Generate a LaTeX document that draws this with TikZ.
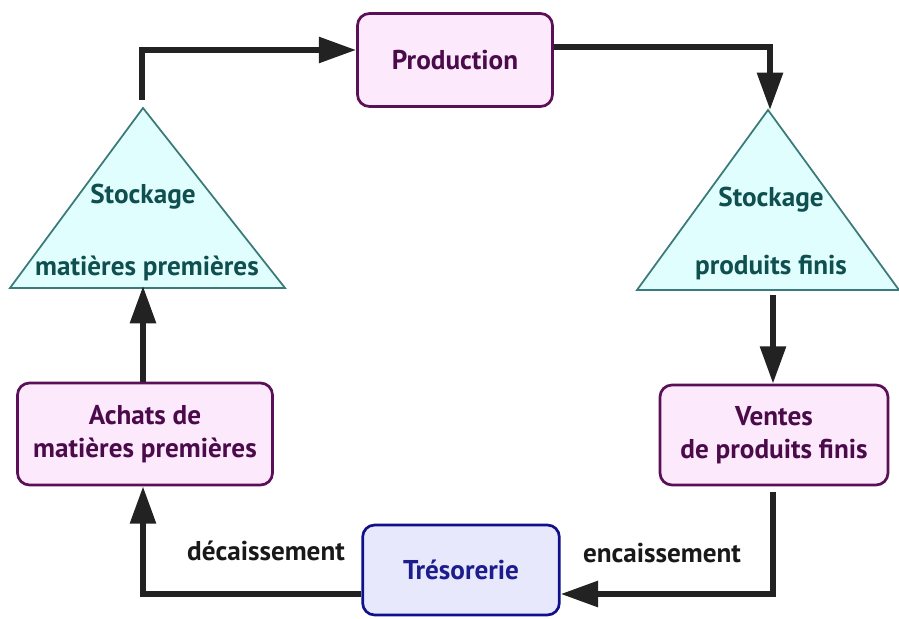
\documentclass[tikz,border=0pt]{standalone}
\usepackage{fontspec}
\setmainfont{PT Sans}
\usepackage{xcolor}
\usepackage{tikz}
\usetikzlibrary{arrows.meta,positioning,calc}

\definecolor{boxfill}{HTML}{FCE9FC}
\definecolor{boxdraw}{HTML}{5A0F57}
\definecolor{boxtext}{HTML}{4B0B4B}
\definecolor{stockfill}{HTML}{E0FEFE}
\definecolor{stockdraw}{HTML}{3A7A78}
\definecolor{stocktext}{HTML}{0F4F4F}
\definecolor{tresofill}{HTML}{E8E8FC}
\definecolor{tresodraw}{HTML}{10108A}
\definecolor{tresotext}{HTML}{1C1C8C}
\definecolor{flowcol}{HTML}{222222}

\begin{document}
\begin{tikzpicture}[
  x=0.03cm, y=0.03cm,
  txt/.style={font=\fontsize{23.2}{28.5}\selectfont\bfseries, align=center},
  box/.style={txt, draw=boxdraw, fill=boxfill, text=boxtext, line width=2.3pt, rounded corners=0.36cm, inner sep=0pt},
  tresor/.style={box, draw=tresodraw, fill=tresofill, text=tresotext},
  stock/.style={draw=stockdraw, fill=stockfill, line width=1.5pt, line join=miter},
  stocktxt/.style={txt, text=stocktext, inner sep=0pt},
  lbl/.style={txt, text=black!90, inner sep=0pt},
  arrow/.style={-{Triangle[length=1.12cm, width=0.75cm]}, draw=flowcol, line width=5pt}
]
  \useasboundingbox (0,0) rectangle (899,618);

  % Boxes
  \node[box, minimum width=5.85cm, minimum height=2.79cm] (prod) at (455,558) {Production};
  \node[box, minimum width=7.65cm, minimum height=3.06cm] (achats) at (145,184) {Achats de\\mati\`eres premi\`eres};
  \node[box, minimum width=6.84cm, minimum height=3.0cm] (ventes) at (774,183) {Ventes\\de produits finis};
  \node[tresor, minimum width=5.9cm, minimum height=2.7cm] (treso) at (461,48) {Tr\'esorerie};

  % Stocks
  \coordinate (smtop) at (142,510);
  \coordinate (smbase) at (143,330);
  \draw[stock] (143,510) -- (285,330) -- (10,330) -- cycle;
  \node[stocktxt] (smlab1) at (143,421) {Stockage};
  \node[stocktxt] (smlab2) at (147,350) {mati\`eres premi\`eres};

  \coordinate (pftop) at (770,508);
  \coordinate (pfbase) at (773,328);
  \draw[stock] (768,508) -- (899,328) -- (637,328) -- cycle;
  \node[stocktxt] (pflab1) at (771,418) {Stockage};
  \node[stocktxt] (pflab2) at (771,350) {produits finis};

  % Labels
  \node[lbl] (decais) at (266,67) {d\'ecaissement};
  \node[lbl] (encais) at (662,65) {encaissement};

  % Arrows
  \draw[arrow] ($(smtop)+(0,8)$) |- ($(prod.west)+(0,10)$);
  \draw[arrow] ($(prod.east)+(0,13)$) -| (pftop);
  \draw[arrow] ($(pfbase)+(0,-5)$) -- (pfbase |- ventes.north);
  \draw[arrow] ($(ventes.south)+(-1,-6)$) |- ($(treso.east)+(0,-24)$);
  \draw[arrow] ($(treso.west)+(0,-24)$) -| ($(achats.south)+(-2,0)$);
  \draw[arrow] ($(achats.north)+(-2,0)$) -- ($(smbase)+(0,2)$);
\end{tikzpicture}
\end{document}
